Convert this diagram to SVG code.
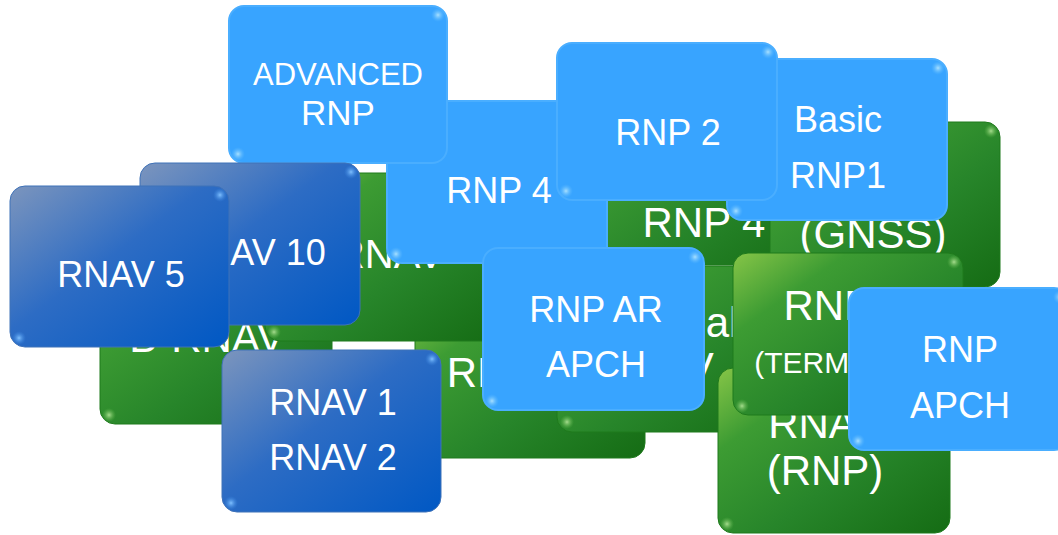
<svg xmlns="http://www.w3.org/2000/svg" width="1058" height="535" viewBox="0 0 1058 535">
  <defs>
    <linearGradient id="gradGreen" x1="0" y1="0" x2="1" y2="1">
      <stop offset="0" stop-color="#86c547"/>
      <stop offset="0.25" stop-color="#3d9c33"/>
      <stop offset="0.6" stop-color="#27852a"/>
      <stop offset="1" stop-color="#156c14"/>
    </linearGradient>
    <linearGradient id="gradDark" x1="0" y1="0" x2="1" y2="1">
      <stop offset="0" stop-color="#7c95bd"/>
      <stop offset="0.45" stop-color="#2d6cc4"/>
      <stop offset="1" stop-color="#0058c4"/>
    </linearGradient>
    <radialGradient id="dotLight">
      <stop offset="0" stop-color="#a8e0ff"/>
      <stop offset="1" stop-color="#58b8ff" stop-opacity="0"/>
    </radialGradient>
    <radialGradient id="dotDark">
      <stop offset="0" stop-color="#7fc0ff"/>
      <stop offset="1" stop-color="#3a86e0" stop-opacity="0"/>
    </radialGradient>
    <radialGradient id="dotGreen">
      <stop offset="0" stop-color="#a6dc8e"/>
      <stop offset="1" stop-color="#5fb64a" stop-opacity="0"/>
    </radialGradient>
  </defs>
  <style>
    .green { fill: url(#gradGreen); stroke: #1f7a1c; stroke-width: 1; }
    .dark { fill: url(#gradDark); stroke: #3f72b8; stroke-width: 1; }
    .light { fill: #38a4ff; stroke: #4aaeff; stroke-width: 2; }
    .dl { fill: url(#dotLight); }
    .dd { fill: url(#dotDark); }
    .dg { fill: url(#dotGreen); }
    text { fill: #ffffff; font-family: "Liberation Sans", Arial, sans-serif; text-anchor: middle; }
    .g42 { font-size: 42px; }
    .b36 { font-size: 36px; }
  </style>

  <!-- legacy designations (green), back to front -->
  <g id="g-rnp10">
    <rect class="green" x="415" y="293" width="230" height="165" rx="15"/>
    <circle class="dg" cx="636" cy="302" r="7"/>
    <circle class="dg" cx="424" cy="449" r="7"/>
    <text class="g42" x="520" y="387">RNP 10</text>
  </g>
  <g id="g-brnav">
    <rect class="green" x="100" y="259" width="232" height="165" rx="15"/>
    <circle class="dg" cx="323" cy="268" r="7"/>
    <circle class="dg" cx="109" cy="415" r="7"/>
    <text class="g42" x="207" y="352">B-RNAV</text>
  </g>
  <g id="g-prnav">
    <rect class="green" x="265" y="173" width="232" height="168" rx="15"/>
    <circle class="dg" cx="488" cy="182" r="7"/>
    <circle class="dg" cx="274" cy="332" r="7"/>
    <text x="370" y="268" style="font-size:40px">P-RNAV</text>
  </g>
  <g id="g-rnp4">
    <rect class="green" x="588" y="100" width="232" height="165" rx="15"/>
    <circle class="dg" cx="811" cy="109" r="7"/>
    <circle class="dg" cx="597" cy="256" r="7"/>
    <text class="g42" x="704" y="237">RNP 4</text>
  </g>
  <g id="g-terminal-rnav">
    <rect class="green" x="557" y="266" width="230" height="166" rx="15"/>
    <circle class="dg" cx="778" cy="275" r="7"/>
    <circle class="dg" cx="567" cy="422" r="7"/>
    <text class="g42" x="659" y="337">Terminal</text>
    <text class="g42" x="657" y="382">RNAV</text>
  </g>
  <g id="g-gnss">
    <rect class="green" x="770" y="122" width="230" height="165" rx="15"/>
    <circle class="dg" cx="991" cy="131" r="7"/>
    <circle class="dg" cx="779" cy="278" r="7"/>
    <text class="g42" x="873" y="201">RNAV</text>
    <text class="g42" x="873" y="248">(GNSS)</text>
  </g>
  <g id="g-rnav-rnp">
    <rect class="green" x="718" y="368" width="232" height="165" rx="15"/>
    <circle class="dg" cx="941" cy="377" r="7"/>
    <circle class="dg" cx="727" cy="524" r="7"/>
    <text class="g42" x="825" y="438">RNAV</text>
    <text class="g42" x="825" y="485">(RNP)</text>
  </g>
  <g id="g-rnp1-terminal">
    <rect class="green" x="733" y="253" width="230" height="162" rx="15"/>
    <circle class="dg" cx="954" cy="262" r="7"/>
    <circle class="dg" cx="742" cy="406" r="7"/>
    <text class="g42" x="845" y="320">RNP 1</text>
    <text x="840" y="373" style="font-size:30px">(TERMINAL)</text>
  </g>

  <!-- navigation specifications (blue), back to front -->
  <g id="b-rnp4">
    <rect class="light" x="387" y="101" width="220" height="162" rx="15"/>
    <circle class="dl" cx="598" cy="110" r="7"/>
    <circle class="dl" cx="396" cy="254" r="7"/>
    <text class="b36" x="499" y="203">RNP 4</text>
  </g>
  <g id="b-advanced-rnp">
    <rect class="light" x="229" y="6" width="218" height="157" rx="15"/>
    <circle class="dl" cx="438" cy="15" r="7"/>
    <circle class="dl" cx="238" cy="154" r="7"/>
    <text x="338" y="85" style="font-size:31px">ADVANCED</text>
    <text x="338" y="125" style="font-size:35px">RNP</text>
  </g>
  <g id="b-rnav10">
    <rect class="dark" x="140" y="163" width="220" height="162" rx="15"/>
    <circle class="dd" cx="351" cy="172" r="7"/>
    <circle class="dd" cx="149" cy="316" r="7"/>
    <text class="b36" x="252" y="265">RNAV 10</text>
  </g>
  <g id="b-rnav5">
    <rect class="dark" x="10" y="186" width="219" height="161" rx="15"/>
    <circle class="dd" cx="220" cy="195" r="7"/>
    <circle class="dd" cx="19" cy="338" r="7"/>
    <text class="b36" x="121" y="287">RNAV 5</text>
  </g>
  <g id="b-rnav1-2">
    <rect class="dark" x="222" y="350" width="219" height="162" rx="15"/>
    <circle class="dd" cx="432" cy="359" r="7"/>
    <circle class="dd" cx="231" cy="503" r="7"/>
    <text class="b36" x="333" y="415">RNAV 1</text>
    <text class="b36" x="333" y="470">RNAV 2</text>
  </g>
  <g id="b-basic-rnp1">
    <rect class="light" x="727" y="59" width="220" height="161" rx="15"/>
    <circle class="dl" cx="938" cy="68" r="7"/>
    <circle class="dl" cx="736" cy="211" r="7"/>
    <text class="b36" x="838" y="132">Basic</text>
    <text class="b36" x="838" y="188">RNP1</text>
  </g>
  <g id="b-rnp2">
    <rect class="light" x="557" y="43" width="220" height="157" rx="15"/>
    <circle class="dl" cx="768" cy="52" r="7"/>
    <circle class="dl" cx="566" cy="191" r="7"/>
    <text class="b36" x="668" y="145">RNP 2</text>
  </g>
  <g id="b-rnp-ar-apch">
    <rect class="light" x="483" y="248" width="221" height="162" rx="15"/>
    <circle class="dl" cx="695" cy="257" r="7"/>
    <circle class="dl" cx="492" cy="401" r="7"/>
    <text class="b36" x="596" y="322">RNP AR</text>
    <text class="b36" x="596" y="377">APCH</text>
  </g>
  <g id="b-rnp-apch">
    <rect class="light" x="849" y="288" width="220" height="162" rx="15"/>
    <circle class="dl" cx="1060" cy="297" r="7"/>
    <circle class="dl" cx="858" cy="441" r="7"/>
    <text class="b36" x="960" y="362">RNP</text>
    <text class="b36" x="960" y="418">APCH</text>
  </g>

  <!-- no connectors in this figure -->
  <g id="connectors"/>
</svg>
